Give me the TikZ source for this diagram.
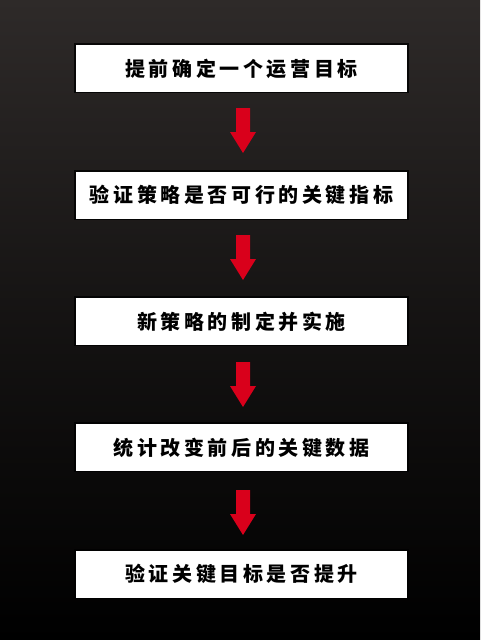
\documentclass[tikz,border=0pt]{standalone}
\usepackage{fontspec}
\newfontfamily\cjk[LetterSpace=18]{Noto Sans CJK SC}
\begin{document}
\begin{tikzpicture}[x=1pt,y=-1pt]
\tikzset{
  stepbox/.style={fill=white, minimum width=331pt, minimum height=47pt, inner sep=0pt,
    font=\cjk\bfseries\fontsize{20pt}{20pt}\selectfont, text=black},
  redarrow/.style={fill=arrowred, draw=none}
}
\definecolor{arrowred}{HTML}{D9001B}
\definecolor{bgtop}{HTML}{2E2A29}
\shade[top color=bgtop, bottom color=black, middle color=black!55!bgtop] (0,0) rectangle (480,640);
\useasboundingbox (0,0) rectangle (480,640);
\foreach \y in {68.5,195,321.5,447.5,574} {
  \fill[black, opacity=0.8] (74,{\y-25.5}) rectangle (409,{\y+24.5});
}
\node[stepbox] (b1) at (241.5,68.5) {提前确定一个运营目标};
\node[stepbox] (b2) at (241.5,195) {验证策略是否可行的关键指标};
\node[stepbox] (b3) at (241.5,321.5) {新策略的制定并实施};
\node[stepbox] (b4) at (241.5,447.5) {统计改变前后的关键数据};
\node[stepbox] (b5) at (241.5,574) {验证关键目标是否提升};
\coordinate (a1) at (243,108);
\coordinate (a2) at (243,235);
\coordinate (a3) at (243,362);
\coordinate (a4) at (243,490);
\foreach \a in {a1,a2,a3,a4} {
  \fill[redarrow] (\a) ++(-7,0) -- ++(14,0) -- ++(0,24) -- ++(6,0) -- ++(-13,21) -- ++(-13,-21) -- ++(6,0) -- cycle;
}
\end{tikzpicture}
\end{document}
